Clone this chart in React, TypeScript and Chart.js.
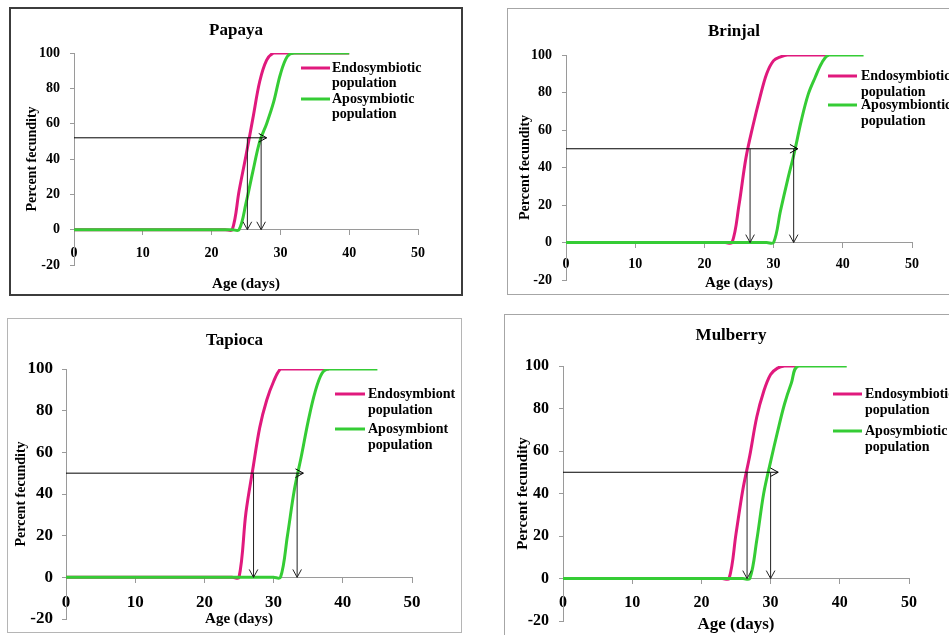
import { useEffect, useRef } from "react";
import { Chart, registerables } from "chart.js";
Chart.register(...registerables);

// ---------- shared axis data ----------
const xTickValues = [0, 10, 20, 30, 40, 50];
const yTickValues = [-20, 0, 20, 40, 60, 80, 100];
const xAxisTitle = "Age (days)";
const yAxisTitle = "Percent fecundity";

// ---------- Papaya ----------
const papayaEndoDays = [0, 22, 23, 24, 25, 26, 27, 28, 29, 30, 40];
const papayaEndoPct = [0, 0, 0, 22, 42, 63, 84, 96, 100, 100, 100];
const papayaApoDays = [0, 23, 24, 25, 26, 27, 28, 29, 30, 31, 32, 40];
const papayaApoPct = [0, 0, 0, 15, 33, 50, 60, 72, 88, 98, 100, 100];
const papayaLegend = [["Endosymbiotic", "population"], ["Aposymbiotic", "population"]];
const papayaArrows = [[0, 52, 28, 52], [25.2, 52, 25.2, 0], [27.2, 52, 27.2, 0]];

// ---------- Brinjal ----------
const brinjalEndoDays = [0, 23, 24, 25, 26, 27, 28, 29, 30, 31, 32, 38];
const brinjalEndoPct = [0, 0, 0, 20, 45, 62, 77, 90, 97, 99, 100, 100];
const brinjalApoDays = [0, 29, 30, 31, 32, 33, 34, 35, 36, 37, 38, 43];
const brinjalApoPct = [0, 0, 0, 17, 33, 48, 65, 79, 88, 96, 100, 100];
const brinjalLegend = [["Endosymbiotic", "population"], ["Aposymbiontic", "population"]];
const brinjalArrows = [[0, 50, 33.5, 50], [26.6, 50, 26.6, 0], [32.9, 50, 32.9, 0]];

// ---------- Tapioca ----------
const tapiocaEndoDays = [0, 24, 25, 26, 27, 28, 29, 30, 31, 32, 38];
const tapiocaEndoPct = [0, 0, 0, 31, 52, 72, 85, 94, 100, 100, 100];
const tapiocaApoDays = [0, 30, 31, 32, 33, 34, 35, 36, 37, 38, 45];
const tapiocaApoPct = [0, 0, 0, 20, 42, 58, 75, 89, 98, 100, 100];
const tapiocaLegend = [["Endosymbiont", "population"], ["Aposymbiont", "population"]];
const tapiocaArrows = [[0, 50, 34.3, 50], [27.1, 50, 27.1, 0], [33.4, 50, 33.4, 0]];

// ---------- Mulberry ----------
const mulberryEndoDays = [0, 23, 24, 25, 26, 27, 28, 29, 30, 31, 32, 34];
const mulberryEndoPct = [0, 0, 0, 21, 42, 58, 76, 88, 96, 99, 100, 100];
const mulberryApoDays = [0, 26, 27, 28, 29, 30, 31, 32, 33, 34, 41];
const mulberryApoPct = [0, 0, 0, 18, 40, 55, 69, 82, 92, 100, 100];
const mulberryLegend = [["Endosymbiotic", "population"], ["Aposymbiotic", "population"]];
const mulberryArrows = [[0, 50, 31.1, 50], [26.6, 50, 26.6, 0], [30.0, 50, 30.0, 0]];

// ---------- styles / layout ----------
const PINK = "#E0197D";
const GREEN = "#35CC35";
const AXIS = "#9a9a9a";
const FONT = "'Liberation Serif', 'Times New Roman', serif";
const BOTTOM_PAD = 30;
const X_BOX_H = 40;

const panels = [
  {
    title: "Papaya",
    endo: [papayaEndoDays, papayaEndoPct], apo: [papayaApoDays, papayaApoPct],
    legend: papayaLegend, arrows: papayaArrows,
    layout: {
      frame: { x: 9, y: 7, w: 454, h: 289, bw: 2, bc: "#3c3c3c" },
      area: { left: 74, right: 418, top: 53, bottom: 265 },
      titleY: 31, yTitleX: 32, yTickRight: 60, xTickY: 253, xTitleY: 284,
      fonts: { title: 17, yTick: 14, xTick: 14, yTitle: 14, xTitle: 15, legend: 14 },
      legendPos: { x1: 301, x2: 330, tx: 332, rows: [68, 83, 99, 114] },
    },
  },
  {
    title: "Brinjal",
    endo: [brinjalEndoDays, brinjalEndoPct], apo: [brinjalApoDays, brinjalApoPct],
    legend: brinjalLegend, arrows: brinjalArrows,
    layout: {
      frame: { x: 507, y: 8, w: 454, h: 287, bw: 1, bc: "#a6a6a6" },
      area: { left: 566, right: 912, top: 55, bottom: 280 },
      titleY: 32, yTitleX: 525, yTickRight: 552, xTickY: 264, xTitleY: 283,
      fonts: { title: 17, yTick: 14, xTick: 14, yTitle: 14, xTitle: 15, legend: 14 },
      legendPos: { x1: 828, x2: 857, tx: 861, rows: [76, 92, 105, 121] },
    },
  },
  {
    title: "Tapioca",
    endo: [tapiocaEndoDays, tapiocaEndoPct], apo: [tapiocaApoDays, tapiocaApoPct],
    legend: tapiocaLegend, arrows: tapiocaArrows,
    layout: {
      frame: { x: 7, y: 318, w: 455, h: 315, bw: 1, bc: "#b5b5b5" },
      area: { left: 66, right: 412, top: 369, bottom: 619 },
      titleY: 341, yTitleX: 21, yTickRight: 53, xTickY: 603, xTitleY: 619,
      fonts: { title: 17, yTick: 17, xTick: 17, yTitle: 14, xTitle: 15, legend: 14 },
      legendPos: { x1: 335, x2: 365, tx: 368, rows: [394, 410, 429, 445] },
    },
  },
  {
    title: "Mulberry",
    endo: [mulberryEndoDays, mulberryEndoPct], apo: [mulberryApoDays, mulberryApoPct],
    legend: mulberryLegend, arrows: mulberryArrows,
    layout: {
      frame: { x: 504, y: 314, w: 454, h: 340, bw: 1, bc: "#a6a6a6" },
      area: { left: 563, right: 909, top: 366, bottom: 621 },
      titleY: 336, yTitleX: 523, yTickRight: 549, xTickY: 603, xTitleY: 625,
      fonts: { title: 17, yTick: 16, xTick: 16, yTitle: 15, xTitle: 17, legend: 14 },
      legendPos: { x1: 833, x2: 862, tx: 865, rows: [394, 410, 431, 447] },
    },
  },
];

const toPoints = (xs: number[], ys: number[]) => xs.map((x, i) => ({ x, y: ys[i] }));

function canvasHeight(L: any) {
  return L.area.bottom - L.frame.y + BOTTOM_PAD;
}

function makeConfig(p: any): any {
  const L = p.layout;
  const fx = L.frame.x, fy = L.frame.y, W = L.frame.w;
  const A = L.area;
  const F = L.fonts;
  const yMin = yTickValues[0];
  const yMax = yTickValues[yTickValues.length - 1];
  const rightW = W - (A.right - fx);
  const leftW = A.left - fx;
  const tpTop = L.titleY - fy - F.title * 0.6;
  const tpBottom = A.top - fy - F.title * 1.2 - tpTop;
  const y0 = A.bottom - ((A.bottom - A.top) * (0 - yMin)) / (yMax - yMin);
  const tlX = 5, tlY = 4;
  const xPad = L.xTickY - y0 - tlX - F.xTick * 0.6;
  const xTitlePadBottom = y0 + X_BOX_H - F.xTitle * 0.6 - L.xTitleY;
  const yPad = A.left - L.yTickRight - tlY;
  const yTitlePadTop = L.yTitleX - fx - F.yTitle * 0.6;

  const legendPlugin = {
    id: "panelLegend",
    afterDraw(chart: any) {
      const ctx = chart.ctx;
      const lp = L.legendPos;
      ctx.save();
      chart.data.datasets.forEach((ds: any, i: number) => {
        const r1 = lp.rows[i * 2] - fy;
        ctx.strokeStyle = ds.borderColor;
        ctx.lineWidth = 3;
        ctx.beginPath();
        ctx.moveTo(lp.x1 - fx, r1);
        ctx.lineTo(lp.x2 - fx, r1);
        ctx.stroke();
        ctx.fillStyle = "#000";
        ctx.font = `bold ${F.legend}px ${FONT}`;
        ctx.textBaseline = "middle";
        ctx.textAlign = "left";
        p.legend[i].forEach((line: string, j: number) => {
          ctx.fillText(line, lp.tx - fx, lp.rows[i * 2 + j] - fy);
        });
      });
      ctx.restore();
    },
  };

  const arrowPlugin = {
    id: "panelArrows",
    afterDatasetsDraw(chart: any) {
      const ctx = chart.ctx;
      const xs = chart.scales.x, ys = chart.scales.y;
      ctx.save();
      p.arrows.forEach((a: number[], k: number) => {
        const X1 = xs.getPixelForValue(a[0]), Y1 = ys.getPixelForValue(a[1]);
        const X2 = xs.getPixelForValue(a[2]), Y2 = ys.getPixelForValue(a[3]);
        ctx.strokeStyle = k === 0 ? "#000" : "#222";
        ctx.lineWidth = 1;
        ctx.beginPath();
        ctx.moveTo(X1, Y1);
        ctx.lineTo(X2, Y2);
        ctx.stroke();
        const ang = Math.atan2(Y2 - Y1, X2 - X1);
        const hl = 9, ha = 0.5;
        ctx.beginPath();
        ctx.moveTo(X2 - hl * Math.cos(ang - ha), Y2 - hl * Math.sin(ang - ha));
        ctx.lineTo(X2, Y2);
        ctx.lineTo(X2 - hl * Math.cos(ang + ha), Y2 - hl * Math.sin(ang + ha));
        ctx.stroke();
      });
      ctx.restore();
    },
  };

  const lineDs = (label: string, pts: any, color: string, order: number) => ({
    label, data: pts, borderColor: color, backgroundColor: color,
    borderWidth: 3, pointRadius: 0, tension: 0.35, fill: false, order,
  });

  return {
    type: "line",
    data: {
      datasets: [
        lineDs(p.legend[0].join(" "), toPoints(p.endo[0], p.endo[1]), PINK, 1),
        lineDs(p.legend[1].join(" "), toPoints(p.apo[0], p.apo[1]), GREEN, 0),
      ],
    },
    options: {
      animation: false,
      responsive: false,
      layout: { padding: { left: 0, right: 0, top: 0, bottom: BOTTOM_PAD } },
      plugins: {
        legend: { display: false },
        tooltip: { enabled: false },
        title: {
          display: true, text: p.title, color: "#000",
          font: { family: FONT, size: F.title, weight: "bold" },
          padding: { top: tpTop, bottom: tpBottom },
        },
      },
      scales: {
        x: {
          type: "linear", position: { y: 0 }, min: 0, max: 50,
          afterFit(s: any) { s.height = X_BOX_H; },
          afterBuildTicks(s: any) { s.ticks = xTickValues.map((v) => ({ value: v })); },
          grid: { drawOnChartArea: false, drawTicks: true, tickLength: tlX, color: AXIS },
          border: { display: true, color: AXIS, width: 1 },
          ticks: { color: "#000", padding: xPad, autoSkip: false, maxRotation: 0,
            font: { family: FONT, size: F.xTick, weight: "bold" } },
          title: { display: true, text: xAxisTitle, color: "#000",
            font: { family: FONT, size: F.xTitle, weight: "bold" },
            padding: { top: 0, bottom: xTitlePadBottom } },
        },
        y: {
          type: "linear", position: "left", min: yMin, max: yMax,
          afterFit(s: any) { s.width = leftW; },
          afterBuildTicks(s: any) { s.ticks = yTickValues.map((v) => ({ value: v })); },
          grid: { drawOnChartArea: false, drawTicks: true, tickLength: tlY, color: AXIS },
          border: { display: true, color: AXIS, width: 1 },
          ticks: { color: "#000", padding: yPad, autoSkip: false,
            font: { family: FONT, size: F.yTick, weight: "bold" } },
          title: { display: true, text: yAxisTitle, color: "#000",
            font: { family: FONT, size: F.yTitle, weight: "bold" },
            padding: { top: yTitlePadTop, bottom: 0 } },
        },
        y2: {
          type: "linear", position: "right", min: yMin, max: yMax,
          afterFit(s: any) { s.width = rightW; },
          grid: { display: false },
          border: { display: false },
          ticks: { display: false },
          title: { display: false },
        },
      },
    },
    plugins: [arrowPlugin, legendPlugin],
  };
}

function Panel({ p }: { p: any }) {
  const ref = useRef<HTMLCanvasElement | null>(null);
  useEffect(() => {
    if (!ref.current) return;
    const chart = new Chart(ref.current, makeConfig(p));
    return () => chart.destroy();
  }, [p]);
  const f = p.layout.frame;
  const ch = canvasHeight(p.layout);
  return (
    <>
      <div style={{ position: "absolute", left: f.x, top: f.y, width: f.w, height: f.h,
        border: `${f.bw}px solid ${f.bc}`, boxSizing: "border-box" }} />
      <canvas ref={ref} width={f.w} height={ch}
        style={{ position: "absolute", left: f.x, top: f.y, width: f.w, height: ch }} />
    </>
  );
}

export default function App() {
  return (
    <div style={{ position: "fixed", left: 0, top: 0, width: 949, height: 635,
      overflow: "hidden", background: "#fff" }}>
      {panels.map((p) => <Panel key={p.title} p={p} />)}
    </div>
  );
}
